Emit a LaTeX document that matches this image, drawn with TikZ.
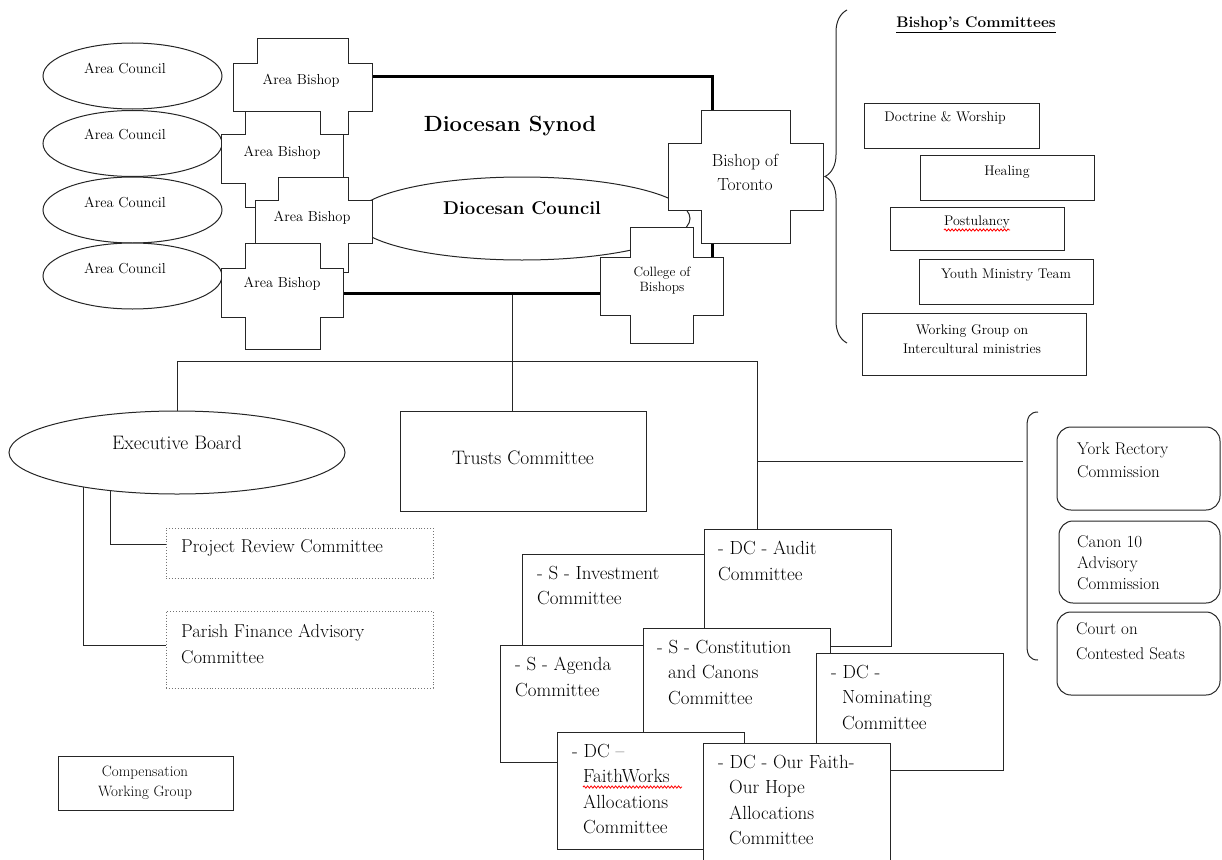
\documentclass[tikz,border=0pt]{standalone}
\usepackage{fontspec}
\usetikzlibrary{shapes.geometric,backgrounds,decorations.pathreplacing,decorations.pathmorphing}

\newcommand{\crossshape}[8]{%
  \filldraw[crossline] (#2,#5) -- (#3,#5) -- (#3,#6) -- (#4,#6) -- (#4,#7)
    -- (#3,#7) -- (#3,#8) -- (#2,#8) -- (#2,#7) -- (#1,#7) -- (#1,#6)
    -- (#2,#6) -- cycle;}

\newcommand{\areasize}{\fontsize{14.5}{17}\selectfont}
\newcommand{\synodsize}{\fontsize{22}{26}\selectfont\bfseries}
\newcommand{\councilsize}{\fontsize{18.5}{22}\selectfont\bfseries}
\newcommand{\torontosize}{\fontsize{17.5}{24}\selectfont}
\newcommand{\collegesize}{\fontsize{13.5}{15.5}\selectfont}
\newcommand{\boardsize}{\fontsize{19.5}{24}\selectfont}
\newcommand{\reviewsize}{\fontsize{18.6}{26}\selectfont}
\newcommand{\cttsize}{\fontsize{19}{25.5}\selectfont}
\newcommand{\paneltitle}{\fontsize{15.3}{18}\selectfont\bfseries}
\newcommand{\panelsize}{\fontsize{14}{19}\selectfont}
\newcommand{\compsize}{\fontsize{15}{20}\selectfont}

\tikzset{
  thinline/.style={draw=black!85, line width=1pt},
  link/.style={draw=black!85, line width=1pt},
  crossline/.style={thinline, fill=white},
  council/.style={ellipse, thinline, fill=white, minimum width=179,
    minimum height=66, inner sep=0pt, outer sep=0pt},
  bigoval/.style={ellipse, thinline, fill=white, minimum width=336,
    minimum height=83, inner sep=0pt, outer sep=0pt},
  synodbox/.style={rectangle, draw=black, line width=3pt, anchor=north west,
    inner sep=0pt, outer sep=0pt},
  plainbox/.style={rectangle, thinline, fill=white, anchor=north west,
    inner sep=0pt, outer sep=0pt},
  cttbox/.style={plainbox, minimum width=187, minimum height=117},
  dotbox/.style={rectangle, draw=black!55, dotted, line width=0.9pt, fill=white,
    anchor=north west, inner sep=0pt, outer sep=0pt},
  roundbox/.style={plainbox, rounded corners=14pt},
  txt/.style={inner sep=0pt, align=center},
  lefttxt/.style={inner sep=0pt, align=left, anchor=north west},
  cttlbl/.style={lefttxt, font=\cttsize},
  squiggle/.style={draw=red, line width=0.8pt, decorate,
    decoration={snake, amplitude=1.1pt, segment length=3.5pt}}
}

\begin{document}
\begin{tikzpicture}[x=1pt,y=-1pt]
\useasboundingbox (0,0) rectangle (1222,859);

% synod and council
\node[synodbox, minimum width=382, minimum height=217] (synod) at (330,76) {};
\node[txt, font=\synodsize] (synodlbl) at (510,126) {Diocesan Synod};
\node[bigoval] (council) at (522,218.5) {};
\node[txt, font=\councilsize] (councillbl) at (522,208) {Diocesan Council};

\crossshape{668}{701}{790}{823}{110}{143}{210}{243}
\node[txt, font=\torontosize] (toronto) at (745,172.5) {Bishop of\\Toronto};
\crossshape{600}{630}{693}{723}{227}{257}{315}{343}
\node[txt, font=\collegesize] (college) at (662,280.5) {College of\\Bishops};

\begin{scope}[every node/.style={council}]
  \node (ac1) at (132.5,76) {};
  \node (ac2) at (132.5,143.5) {};
  \node (ac3) at (132.5,210) {};
  \node (ac4) at (132.5,276) {};
\end{scope}
\begin{scope}[every node/.style={txt, font=\areasize}]
  \node (ac1lbl) at (125,68) {Area Council};
  \node (ac2lbl) at (125,134) {Area Council};
  \node (ac3lbl) at (125,202) {Area Council};
  \node (ac4lbl) at (125,268) {Area Council};
\end{scope}

\crossshape{233}{257}{348}{372}{39}{63}{111}{134}
\node[txt, font=\areasize] (ab1) at (301,81) {Area Bishop};
\crossshape{221}{245}{320}{343}{111}{134}{183}{207}
\node[txt, font=\areasize] (ab2) at (282,153) {Area Bishop};
\crossshape{255}{278}{348}{372}{177}{200}{243}{272}
\node[txt, font=\areasize] (ab3) at (312,218) {Area Bishop};
\crossshape{221}{245}{320}{343}{243}{268}{317}{349}
\node[txt, font=\areasize] (ab4) at (282,284) {Area Bishop};

% bishop's committees
\draw[thinline, decorate, decoration={brace, amplitude=22pt}] (847,343) -- (847,10);
\node[txt, font=\paneltitle] (bctitle) at (976,25) {\underline{Bishop’s Committees}};
\node[plainbox, minimum width=175, minimum height=45] (doctrine) at (864,103) {};
\node[txt, font=\panelsize] (doctrinelbl) at (945,118) {Doctrine \& Worship};
\node[plainbox, minimum width=174, minimum height=45] (healing) at (920,155) {};
\node[txt, font=\panelsize] (healinglbl) at (1007,172) {Healing};
\node[plainbox, minimum width=174, minimum height=43] (postulancy) at (890,207) {};
\node[txt, font=\panelsize] (postlbl) at (977,222) {Postulancy};
\draw[squiggle] ([shift={(0,1.5)}]postlbl.south west) -- ([shift={(0,1.5)}]postlbl.south east);
\node[plainbox, minimum width=174, minimum height=45] (youth) at (919,259) {};
\node[txt, font=\panelsize] (youthlbl) at (1006,275) {Youth Ministry Team};
\node[plainbox, minimum width=224, minimum height=62] (working) at (862,313) {};
\node[txt, font=\panelsize] (workinglbl) at (972,339.5) {Working Group on\\Intercultural ministries};

% lower level
\coordinate (trunk) at (512,361);
\coordinate (barL) at (177,361);
\coordinate (barR) at (757,361);
\coordinate (tapR) at (757,461);
\coordinate (rtip) at (1023,461);

\node[bigoval] (exec) at (177,452.5) {};
\node[txt, font=\boardsize] (execlbl) at (177,443) {Executive Board};
\node[plainbox, minimum width=246, minimum height=100] (trusts) at (400,411) {};
\node[txt, font=\boardsize] (trustslbl) at (523,458) {Trusts Committee};

\node[dotbox, minimum width=267, minimum height=50] (project) at (166,528) {};
\node[inner sep=0pt, anchor=west, font=\reviewsize] (projectlbl) at (181,548) {Project Review Committee};
\node[dotbox, minimum width=267, minimum height=77] (parish) at (166,611) {};
\node[lefttxt, font=\reviewsize] (parishlbl) at (181,624) {Parish Finance Advisory\\Committee};

\node[plainbox, minimum width=175, minimum height=54] (comp) at (58,756) {};
\node[txt, font=\compsize] (complbl) at (145,783) {Compensation\\Working Group};

% committees cluster
\node[cttbox] (invest) at (522,554) {};
\node[cttlbl] (investlbl) at ([shift={(15,12)}]invest.north west) {- S - Investment\\Committee};
\node[cttbox] (audit) at (704,529) {};
\node[cttlbl] (auditlbl) at ([shift={(14,12)}]audit.north west) {- DC - Audit\\Committee};
\node[cttbox] (agenda) at (500,645) {};
\node[cttlbl] (agendalbl) at ([shift={(15,12)}]agenda.north west) {- S - Agenda\\Committee};
\node[cttbox] (constit) at (643,628) {};
\node[cttlbl] (constitlbl) at ([shift={(14,12)}]constit.north west)
  {- S - Constitution\\\hspace*{11pt}and Canons\\\hspace*{11pt}Committee};
\node[cttbox] (nominate) at (816,653) {};
\node[cttlbl] (nominatelbl) at ([shift={(15,12)}]nominate.north west)
  {- DC -\\\hspace*{11pt}Nominating\\\hspace*{11pt}Committee};
\node[cttbox] (faith) at (557,732) {};
\node[cttlbl] (faithlbl) at ([shift={(15,12)}]faith.north west)
  {- DC –\\\hspace*{11pt}FaithWorks\\\hspace*{11pt}Allocations\\\hspace*{11pt}Committee};
\draw[squiggle] ([shift={(11,43)}]faithlbl.north west) -- ([shift={(110,43)}]faithlbl.north west);
\node[cttbox, minimum height=125] (ourfaith) at (703,743) {};
\node[cttlbl] (ourfaithlbl) at ([shift={(15,12)}]ourfaith.north west)
  {- DC - Our Faith-\\\hspace*{11pt}Our Hope\\\hspace*{11pt}Allocations\\\hspace*{11pt}Committee};

% commissions
\draw[thinline] (1038,412) .. controls (1030,412) and (1027,417) .. (1027,426)
  -- (1027,646) .. controls (1027,655) and (1030,660) .. (1038,660);
\node[roundbox, minimum width=163, minimum height=83] (york) at (1057,427) {};
\node[lefttxt, font=\fontsize{17}{23}\selectfont] (yorklbl) at ([shift={(20,15.5)}]york.north west)
  {York Rectory\\Commission};
\node[roundbox, minimum width=161, minimum height=82] (canon) at (1059,521) {};
\node[lefttxt, font=\fontsize{17}{21}\selectfont] (canonlbl) at ([shift={(18,14.5)}]canon.north west)
  {Canon 10\\Advisory\\Commission};
\node[roundbox, minimum width=163, minimum height=83] (court) at (1057,612) {};
\node[lefttxt, font=\fontsize{17}{25}\selectfont] (courtlbl) at ([shift={(19,10.5)}]court.north west)
  {Court on\\Contested Seats};

% connectors
\begin{scope}[on background layer]
  \draw[link] (synod.south -| trunk) -- (trunk);
  \draw[link] (barL) -- (barR);
  \draw[link] (barL) -- (exec.north);
  \draw[link] (trunk) -- (trusts.north -| trunk);
  \draw[link] (barR) -- (barR |- audit.north);
  \draw[link] (tapR) -- (rtip);
  \draw[link] ([shift={(-67,0)}]exec.center) |- ([shift={(0,16)}]project.north west);
  \draw[link] ([shift={(-94,0)}]exec.center) |- ([shift={(0,34)}]parish.north west);
\end{scope}

\end{tikzpicture}
\end{document}
